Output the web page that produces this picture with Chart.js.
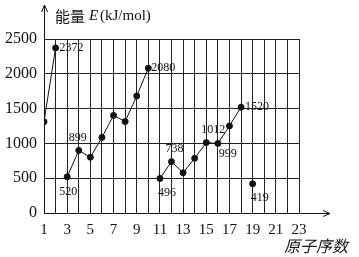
<!DOCTYPE html>
<html>
<head>
<meta charset="utf-8">
<script src="https://cdn.jsdelivr.net/npm/chart.js@4/dist/chart.umd.min.js"></script>
<style>
  html, body { margin: 0; padding: 0; background: #fff; }
  #wrap { width: 359px; height: 257px; position: relative; }
</style>
</head>
<body>
<div id="wrap"><canvas id="ie-chart"></canvas></div>
<script>
// atomic number -> first ionization energy (kJ/mol)
const atomicNumbers = [1, 2, 3, 4, 5, 6, 7, 8, 9, 10, 11, 12, 13, 14, 15, 16, 17, 18, 19];
const energies = [1312, 2372, 520, 899, 801, 1086, 1402, 1314, 1681, 2080, 496, 738, 578, 786, 1012, 999, 1251, 1520, 419];
// periods are drawn as separate polylines
const periodStarts = [0, 2, 10, 18];
const periodEnds = [2, 10, 18, 19];
const yTicks = [0, 500, 1000, 1500, 2000, 2500];
const xTicks = [1, 3, 5, 7, 9, 11, 13, 15, 17, 19, 21, 23];
// labelled points
const labelNumbers = [2, 3, 4, 10, 11, 12, 15, 16, 18, 19];
const labelTexts = ["2372", "520", "899", "2080", "496", "738", "1012", "999", "1520", "419"];

// where each label sits relative to its point (dx, dy, align)
const labelPlacement = {
  2: [4, 0, "left"], 3: [-8, 15, "left"], 4: [-10, -13, "left"], 10: [3, 0, "left"],
  11: [-2, 14, "left"], 12: [-6, -13, "left"], 15: [-5, -13, "left"], 16: [1, 10, "left"],
  18: [4, 0, "left"], 19: [-2, 14, "left"]
};

const serif = '"Liberation Serif", "DejaVu Serif", serif';

const datasets = periodStarts.map((s, i) => ({
  data: atomicNumbers.slice(s, periodEnds[i]).map((n, k) => ({ x: n, y: energies[s + k] })),
  borderColor: "#111",
  backgroundColor: "#111",
  borderWidth: 1,
  pointRadius: 3,
  pointHoverRadius: 3,
  showLine: true,
  tension: 0
}));

const decorations = {
  id: "decorations",
  afterDatasetsDraw(chart) {
    const { ctx, chartArea, scales } = chart;
    const xs = scales.x, ys = scales.y;
    ctx.save();
    ctx.strokeStyle = "#111";
    ctx.fillStyle = "#111";
    ctx.lineWidth = 1;
    // y axis arrow
    const ax = Math.round(xs.getPixelForValue(1)) + 0.5;
    ctx.beginPath();
    ctx.moveTo(ax, chartArea.top);
    ctx.lineTo(ax, 6);
    ctx.stroke();
    ctx.beginPath();
    ctx.moveTo(ax - 3, 12);
    ctx.lineTo(ax, 5);
    ctx.lineTo(ax + 3, 12);
    ctx.stroke();
    // x axis arrow
    const ay = Math.round(ys.getPixelForValue(0)) + 0.5;
    ctx.beginPath();
    ctx.moveTo(chartArea.right, ay);
    ctx.lineTo(329, ay);
    ctx.stroke();
    ctx.beginPath();
    ctx.moveTo(323, ay - 3);
    ctx.lineTo(330, ay);
    ctx.lineTo(323, ay + 3);
    ctx.stroke();

    // point labels
    ctx.font = "12px " + serif;
    ctx.textBaseline = "middle";
    labelNumbers.forEach((n, i) => {
      const p = labelPlacement[n];
      const px = xs.getPixelForValue(n), py = ys.getPixelForValue(energies[atomicNumbers.indexOf(n)]);
      ctx.textAlign = p[2];
      ctx.fillText(labelTexts[i], px + p[0], py + p[1]);
    });

    // axis titles
    ctx.textAlign = "left";
    ctx.font = '15px "Noto Sans CJK SC"';
    ctx.fillText("能量", 55, 16);
    ctx.font = "italic 15px " + serif;
    ctx.fillText("E", 89, 16);
    ctx.font = "15px " + serif;
    ctx.fillText("(kJ/mol)", 100, 16);
    ctx.font = 'italic 16px "Noto Sans CJK SC"';
    ctx.fillText("原子序数", 284, 246);
    ctx.restore();
  }
};

new Chart(document.getElementById("ie-chart"), {
  type: "scatter",
  data: { datasets },
  options: {
    responsive: true,
    maintainAspectRatio: false,
    animation: false,
    layout: { padding: { top: 39, right: 60, bottom: 0, left: 0 } },
    plugins: { legend: { display: false }, tooltip: { enabled: false } },
    scales: {
      x: {
        type: "linear",
        min: 1,
        max: 23,
        afterBuildTicks: (axis) => { axis.ticks = atomicNumbers.concat([20, 21, 22, 23]).map(v => ({ value: v })); },
        afterFit: (axis) => { axis.height = 44; },
        grid: { color: "#222", lineWidth: 1, drawTicks: false },
        border: { color: "#111", width: 1 },
        ticks: {
          color: "#111",
          font: { family: serif, size: 15 },
          padding: 8,
          maxRotation: 0,
          autoSkip: false,
          callback: (v) => (xTicks.includes(v) ? String(v) : "")
        }
      },
      y: {
        min: 0,
        max: 2500,
        afterBuildTicks: (axis) => { axis.ticks = yTicks.map(v => ({ value: v })); },
        afterFit: (axis) => { axis.width = 44; },
        grid: { color: "#222", lineWidth: 1, drawTicks: false },
        border: { color: "#111", width: 1 },
        ticks: {
          color: "#111",
          font: { family: serif, size: 16 },
          padding: 7,
          callback: (v) => String(v)
        }
      }
    }
  },
  plugins: [decorations]
});
</script>
</body>
</html>
